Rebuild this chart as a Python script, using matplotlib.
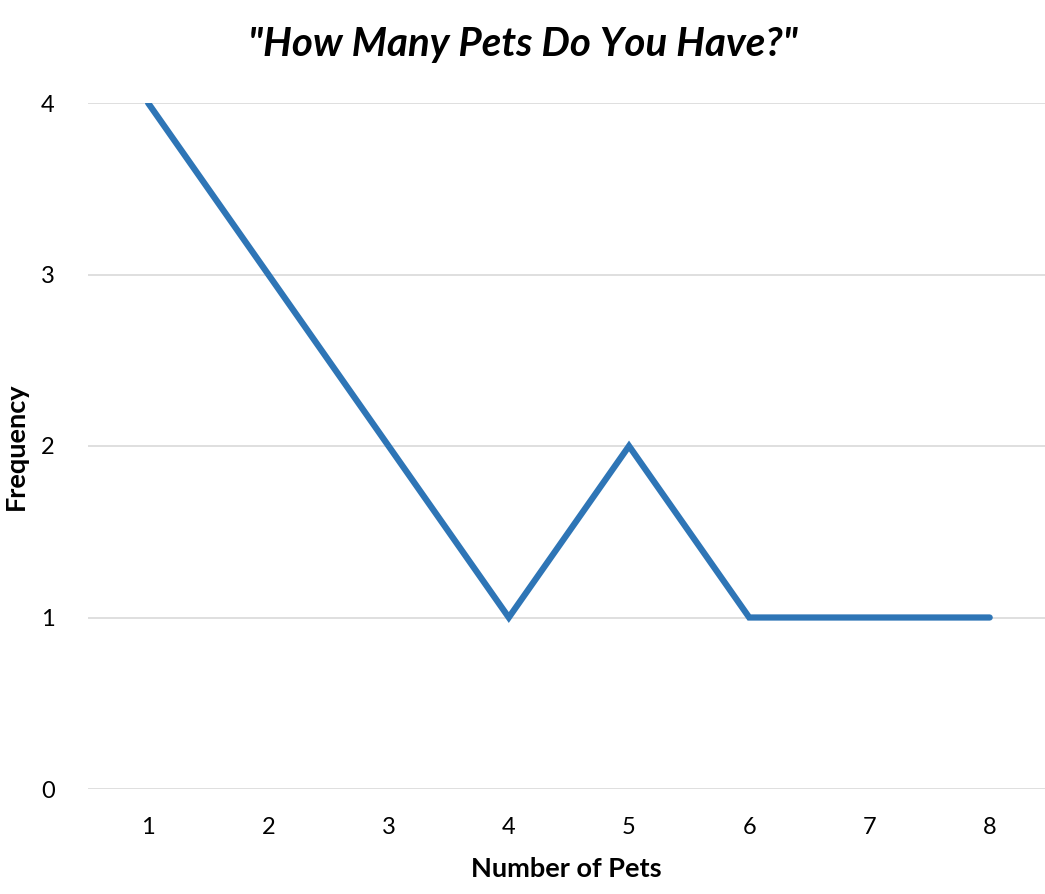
import matplotlib
matplotlib.use("Agg")
import matplotlib.pyplot as plt

pets = [1, 2, 3, 4, 5, 6, 7, 8]
frequency = [4, 3, 2, 1, 2, 1, 1, 1]
yticks = [0, 1, 2, 3, 4]

plt.rcParams['font.family'] = ['Lato', 'DejaVu Sans']

fig = plt.figure(figsize=(10.45, 8.94), dpi=100)
ax = fig.add_axes([88/1045, 105/894, 1 - 88/1045, 686/894])
ax.plot(pets, frequency, color='#2E75B6', linewidth=4.5, solid_capstyle='round', solid_joinstyle='miter', zorder=3)
ax.set_xlim(0.5, 8.46)
ax.set_ylim(0, 4)
ax.set_yticks(yticks)
ax.set_xticks(pets)
ax.yaxis.grid(True, color='#D9D9D9', linewidth=1.2)
ax.set_axisbelow(True)
for s in ax.spines.values():
    s.set_visible(False)
ax.tick_params(length=0, labelsize=17, colors='black')
ax.tick_params(axis='y', pad=24)
ax.tick_params(axis='x', pad=20)
ax.set_xlabel('Number of Pets', fontsize=19.5, fontweight='bold', labelpad=14)
fig.text(16/1045, 1 - 446/894, 'Frequency', rotation=90, ha='center', va='center', fontsize=19.5, fontweight='bold')
fig.text(0.5, 0.950, '"How Many Pets Do You Have?"', ha='center', va='center', fontsize=29, fontweight='bold', fontstyle='italic')
fig.savefig('out.png', dpi=100)
